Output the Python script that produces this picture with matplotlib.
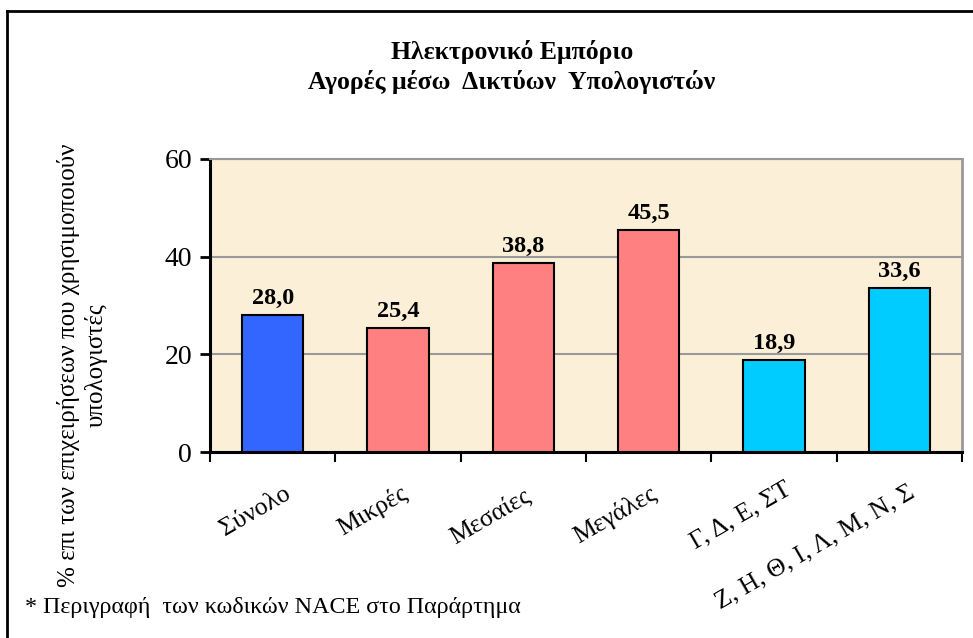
import matplotlib
matplotlib.use("Agg")
import matplotlib.pyplot as plt
from matplotlib.lines import Line2D
from matplotlib.transforms import offset_copy

categories = ["Σύνολο", "Μικρές", "Μεσαίες", "Μεγάλες", "Γ, Δ, Ε, ΣΤ", "Ζ, Η, Θ, Ι, Λ, Μ, Ν, Σ"]
values = [28.0, 25.4, 38.8, 45.5, 18.9, 33.6]
value_labels = ["28,0", "25,4", "38,8", "45,5", "18,9", "33,6"]
colors = ["#3366FF", "#FF8080", "#FF8080", "#FF8080", "#00CCFF", "#00CCFF"]
yticks = [0, 20, 40, 60]
title = "Ηλεκτρονικό Εμπόριο\nΑγορές μέσω  Δικτύων  Υπολογιστών"
ylabel = "% επι των επιχειρήσεων που χρησιμοποιούν\nυπολογιστές"
footnote = "* Περιγραφή  των κωδικών NACE στο Παράρτημα"

plt.rcParams['font.family'] = ['Liberation Serif', 'DejaVu Serif']

fig = plt.figure(figsize=(9.73, 6.38), dpi=100)
W, H = 973, 638

# figure frame (top and left visible)
fig.add_artist(Line2D([7/W, 7/W], [0, 1 - 11/H], transform=fig.transFigure, color='black', lw=2))
fig.add_artist(Line2D([7/W, 1], [1 - 11/H, 1 - 11/H], transform=fig.transFigure, color='black', lw=2))

ax = fig.add_axes([210/W, 1 - 452/H, (962 - 210)/W, (452 - 159)/H])
ax.set_facecolor('#FBEFD7')
x = list(range(len(values)))
ax.bar(x, values, width=0.49, color=colors, edgecolor='black', linewidth=1.5, zorder=3)
for xi, v, lab in zip(x, values, value_labels):
    ax.text(xi, v + 1.2, lab, ha='center', va='bottom', fontsize=17.5, fontweight='bold', zorder=4)

ax.set_xlim(-0.5, len(values) - 0.5)
ax.set_ylim(0, 60)
ax.set_yticks(yticks)
ax.set_yticklabels([str(t) for t in yticks], fontsize=20)
ax.yaxis.grid(True, color='#999999', linewidth=1.5, zorder=1)
ax.set_xticks([i - 0.5 for i in range(len(values) + 1)])
ax.set_xticklabels([])
ax.tick_params(axis='y', direction='out', length=7, width=2, pad=6)
ax.tick_params(axis='x', direction='out', length=7, width=1.5)
for s in ['left', 'bottom']:
    ax.spines[s].set_color('black')
    ax.spines[s].set_linewidth(2.2)
ax.spines['right'].set_color('#999999')
ax.spines['right'].set_linewidth(2)
ax.spines['top'].set_color('#999999')
ax.spines['top'].set_linewidth(1.5)

# category labels
trans = ax.get_xaxis_transform()
label_offsets = [(16, -40), (8, -40), (6, -42), (6, -40), (16, -36), (14, -39)]
for i, cat in enumerate(categories):
    t = offset_copy(trans, fig=fig, x=label_offsets[i][0], y=label_offsets[i][1], units='dots')
    ax.text(i, 0, cat, transform=t, rotation=30, rotation_mode='anchor',
            ha='right', va='center', fontsize=18.5)

fig.text(512/W, 1 - 67/H, title, ha='center', va='center', fontsize=18.5,
         fontweight='bold', linespacing=1.35)
fig.text(82/W, 1 - 365/H, ylabel, ha='center', va='center', rotation=90,
         fontsize=18, linespacing=1.25)
fig.text(25/W, 1 - 608/H, footnote, ha='left', va='center', fontsize=17.3)

fig.savefig('out.png', dpi=100)
